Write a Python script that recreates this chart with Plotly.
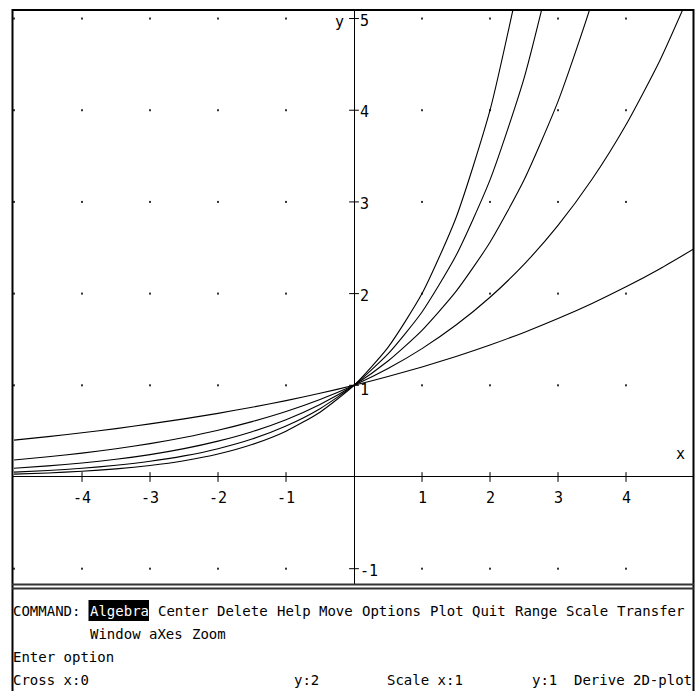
import plotly.graph_objects as go

# ---------------- data ----------------
xs = [-5, -4.5, -4, -3.5, -3, -2.5, -2, -1.5, -1, -0.5, 0, 0.5, 1, 1.5, 2, 2.5, 3, 3.5, 4, 4.5, 5]
curve_a = [0.402, 0.440, 0.482, 0.528, 0.579, 0.634, 0.694, 0.761, 0.833, 0.913, 1.0,
           1.095, 1.2, 1.315, 1.44, 1.577, 1.728, 1.893, 2.074, 2.272, 2.488]
curve_b = [0.186, 0.220, 0.260, 0.308, 0.364, 0.431, 0.510, 0.604, 0.714, 0.845, 1.0,
           1.183, 1.4, 1.657, 1.96, 2.319, 2.744, 3.247, 3.842, 4.546, 5.378]
curve_c = [0.095, 0.121, 0.153, 0.193, 0.244, 0.309, 0.391, 0.494, 0.625, 0.791, 1.0,
           1.265, 1.6, 2.024, 2.56, 3.238, 4.096, 5.181, 6.554]
curve_d = [0.053, 0.071, 0.095, 0.128, 0.171, 0.230, 0.309, 0.414, 0.556, 0.745, 1.0,
           1.342, 1.8, 2.415, 3.24, 4.347, 5.832]
curve_e = [0.031, 0.044, 0.0625, 0.088, 0.125, 0.177, 0.25, 0.354, 0.5, 0.707, 1.0,
           1.414, 2.0, 2.828, 4.0, 5.657]
curves = [curve_a, curve_b, curve_c, curve_d, curve_e]

x_ticks = [-4, -3, -2, -1, 1, 2, 3, 4]
y_ticks = [-1, 1, 2, 3, 4, 5]
x_ticklabels = ["-4", "-3", "-2", "-1", "1", "2", "3", "4"]
y_ticklabels = ["-1", "1", "2", "3", "4", "5"]
dot_x = [-5, -4, -3, -2, -1, 1, 2, 3, 4]
dot_y = [-1, 1, 2, 3, 4, 5]

x_range = [-5.015, 4.985]
y_range = [-1.167, 5.093]

menu_line1 = [(0, "COMMAND:"), (17, "Center"), (24, "Delete"), (31, "Help"), (36, "Move"),
              (41, "Options"), (49, "Plot"), (54, "Quit"), (59, "Range"), (65, "Scale"),
              (71, "Transfer")]
menu_highlight = (9, "Algebra")
menu_line2 = [(9, "Window"), (16, "aXes"), (21, "Zoom")]
prompt_line = [(0, "Enter option")]
status_line = [(0, "Cross x:0"), (33, "y:2"), (44, "Scale x:1"), (61, "y:1")]
status_right = "Derive 2D-plot"

# ---------------- geometry ----------------
W, H = 695, 691
PL, PR, PT, PB = 13, 693, 10, 584
FONT = "DejaVu Sans Mono"
CW = 8.5  # character cell width


def X(px):
    return px / W


def Y(py):
    return 1 - py / H


fig = go.Figure()

# grid dots
gx, gy = [], []
for yy in dot_y:
    for xx in dot_x:
        gx.append(xx)
        gy.append(yy)
fig.add_trace(go.Scatter(x=gx, y=gy, mode="markers",
                         marker=dict(symbol="square", size=2, color="#333"),
                         hoverinfo="skip"))

# curves
for c in curves:
    fig.add_trace(go.Scatter(x=xs[:len(c)], y=c, mode="lines",
                             line=dict(color="black", width=1.1, shape="spline", smoothing=0.6),
                             hoverinfo="skip"))

# tick marks
fig.add_trace(go.Scatter(x=x_ticks, y=[0] * len(x_ticks), mode="markers",
                         marker=dict(symbol="line-ns", size=7, line=dict(width=1, color="black")),
                         hoverinfo="skip"))
fig.add_trace(go.Scatter(x=[0] * len(y_ticks), y=y_ticks, mode="markers",
                         marker=dict(symbol="line-ew", size=7, line=dict(width=1, color="black")),
                         hoverinfo="skip"))

ann = []
for v, t in zip(x_ticks, x_ticklabels):
    ann.append(dict(x=v, y=0, xref="x", yref="y", text=t, showarrow=False,
                    xanchor="center", yanchor="middle", yshift=-21,
                    font=dict(family=FONT, size=15, color="black")))
for v, t in zip(y_ticks, y_ticklabels):
    ann.append(dict(x=0, y=v, xref="x", yref="y", text=t, showarrow=False,
                    xanchor="left", yanchor="middle", xshift=4, yshift=(-5 if v == 1 else -2),
                    font=dict(family=FONT, size=15, color="black")))
ann.append(dict(x=0, y=y_ticks[-1], xref="x", yref="y", text="y", showarrow=False,
                xanchor="right", yanchor="middle", xshift=-8, yshift=-3,
                font=dict(family=FONT, size=15, color="black")))
ann.append(dict(x=X(680), y=Y(454), xref="paper", yref="paper", text="x", showarrow=False,
                xanchor="center", yanchor="middle",
                font=dict(family=FONT, size=15, color="black")))

rows = [611, 634, 657, 680]


def put(col, text, row, color="black"):
    ann.append(dict(x=X(PL + col * CW), y=Y(row), xref="paper", yref="paper", text=text,
                    showarrow=False, xanchor="left", yanchor="middle", xshift=-2,
                    font=dict(family=FONT, size=14, color=color)))


for col, t in menu_line1:
    put(col, t, rows[0])
put(menu_highlight[0], menu_highlight[1], rows[0], color="white")
for col, t in menu_line2:
    put(col, t, rows[1])
for col, t in prompt_line:
    put(col, t, rows[2])
for col, t in status_line:
    put(col, t, rows[3])
ann.append(dict(x=X(PR + 1), y=Y(rows[3]), xref="paper", yref="paper", text=status_right,
                showarrow=False, xanchor="right", yanchor="middle",
                font=dict(family=FONT, size=14, color="black")))

hc = menu_highlight[0]
shapes = [
    # highlight box behind "Algebra"
    dict(type="rect", xref="paper", yref="paper", layer="below",
         x0=X(PL + hc * CW - 1), x1=X(PL + (hc + len(menu_highlight[1])) * CW),
         y0=Y(rows[0] + 10), y1=Y(rows[0] - 11), fillcolor="black", line=dict(width=0)),
    # frame
    dict(type="line", xref="paper", yref="paper", x0=X(12.5), x1=X(12.5), y0=Y(9), y1=Y(H),
         line=dict(color="black", width=2)),
    dict(type="line", xref="paper", yref="paper", x0=X(12), x1=X(694), y0=Y(10), y1=Y(10),
         line=dict(color="black", width=2)),
    dict(type="line", xref="paper", yref="paper", x0=X(693.5), x1=X(693.5), y0=Y(9), y1=Y(H),
         line=dict(color="black", width=2)),
    dict(type="line", xref="paper", yref="paper", x0=X(12), x1=X(694), y0=Y(584.5), y1=Y(584.5),
         line=dict(color="#333", width=2)),
    dict(type="line", xref="paper", yref="paper", x0=X(12), x1=X(694), y0=Y(588.5), y1=Y(588.5),
         line=dict(color="#333", width=2)),
]

fig.update_layout(
    width=W, height=H, margin=dict(l=0, r=0, t=0, b=0),
    paper_bgcolor="white", plot_bgcolor="white", showlegend=False,
    xaxis=dict(domain=[X(PL), X(PR)], range=x_range, showgrid=False, zeroline=True,
               zerolinecolor="black", zerolinewidth=1, showticklabels=False, ticks="",
               fixedrange=True),
    yaxis=dict(domain=[Y(PB), Y(PT)], range=y_range, showgrid=False, zeroline=True,
               zerolinecolor="black", zerolinewidth=1, showticklabels=False, ticks="",
               fixedrange=True),
    annotations=ann, shapes=shapes,
)

fig.write_html("out.html")
